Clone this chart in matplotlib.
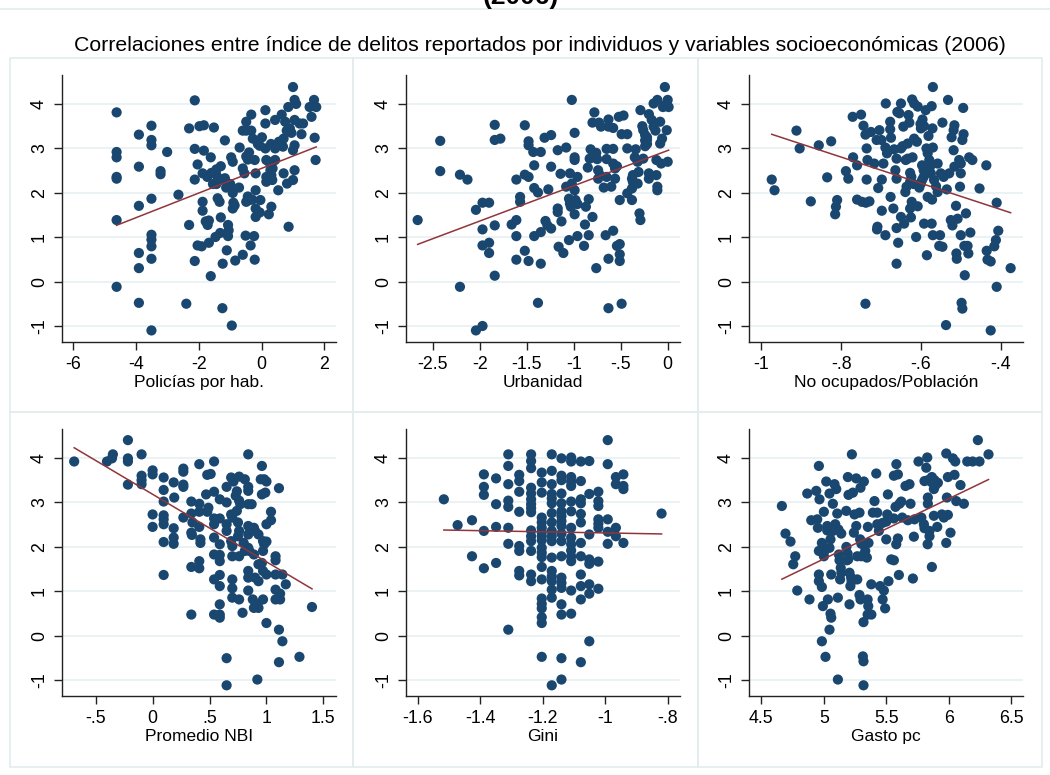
import numpy as np
import matplotlib
matplotlib.use("Agg")
import matplotlib.pyplot as plt
from matplotlib.patches import Rectangle
from matplotlib.lines import Line2D

plt.rcParams['font.family'] = ['Liberation Sans', 'DejaVu Sans']

title_top = "(2006)"
subtitle = "Correlaciones entre índice de delitos reportados por individuos y variables socioeconómicas (2006)"

y_ticks = [-1, 0, 1, 2, 3, 4]
y_limits = (-1.35, 4.65)

# Policías por hab.
pol_x = [-4.62, -4.62, -4.62, -4.62, -4.62, -4.62, -4.62, -3.91, -3.91, -3.91, -3.91, -3.91, -3.91,
         -3.51, -3.51, -3.51, -3.51, -3.51, -3.51, -3.51, -3.51, -3.51, -3.22, -3.22, -3.01, -2.65,
         -2.40, -2.31, -2.31, -2.13, -2.13, -2.13, -2.13, -2.04, -2.04, -1.98, -1.84, -1.52, -1.84,
         -1.88, -1.88, -1.88, -1.91, -1.68, -1.62, -1.62, -1.73, -1.78, -1.72, -1.68, -1.44, -1.44,
         -1.44, -1.34, -1.40, -1.30, -1.32, -1.47, -1.24, -1.17, -1.17, -1.13, -1.11, -1.25, -1.07,
         -1.05, -1.07, -0.97, -0.92, -0.95, -0.92, -0.90, -0.86, -0.92, -0.84, -0.95, -0.70, -0.72,
         -0.60, -0.60, -0.55, -0.49, -0.49, -0.51, -0.49, -0.44, -0.40, -0.44, -0.40, -0.49, -0.33,
         -0.33, -0.28, -0.35, -0.24, -0.22, -0.22, -0.19, -0.19, -0.19, -0.19, -0.12, -0.06, -0.04,
         -0.06, 0.01, 0.12, 0.12, 0.12, 0.15, 0.15, 0.15, 0.23, 0.28, 0.31, 0.34, 0.23, 0.31, 0.43,
         0.43, 0.43, 0.53, 0.64, 0.68, 0.70, 0.70, 0.80, 0.90, 0.95, 0.81, 0.86, 0.85, 1.00, 1.05,
         1.10, 1.05, 1.05, 1.00, 1.05, 1.00, 1.21, 1.27, 1.32, 1.53, 1.59, 1.67, 1.74, 1.69, 1.72,
         -1.55, -1.30, -1.25, -1.00, 0.30, 0.55, -0.60, 0.75, -0.30, 0.35, -1.60]
pol_y = [3.81, 2.92, 2.80, 2.36, 2.32, 1.39, -0.11, 3.31, 2.59, 1.71, 0.65, 0.31, -0.47,
         3.51, 3.19, 3.07, 1.87, 1.06, 0.95, 0.80, 0.52, -1.09, 2.49, 2.42, 2.92, 1.96,
         -0.49, 3.45, 1.28, 4.08, 2.99, 2.30, 0.47, 2.64, 0.82, 3.50, 3.52, 3.47, 2.95,
         2.44, 1.80, 1.60, 0.80, 0.88, 2.80, 0.13, 2.36, 1.36, 1.28, 1.38, 2.53, 2.40,
         2.20, 1.80, 1.88, 1.45, 1.10, 1.01, 0.41, 2.33, 3.18, 2.12, 0.71, -0.59, 1.28,
         1.16, 1.03, 2.80, 2.70, 2.10, 2.00, 1.78, 1.72, 1.65, 0.48, -0.98, 3.02, 2.12,
         0.61, 2.55, 2.44, 3.40, 3.60, 1.04, 1.80, 1.92, 1.84, 2.75, 2.91, 2.82, 3.76,
         3.40, 3.22, 0.82, 1.03, 0.50, 2.74, 2.44, 2.06, 1.65, 1.46, 3.10, 3.06, 1.84,
         1.56, 3.25, 3.56, 3.86, 3.00, 2.74, 2.36, 2.25, 2.70, 2.51, 2.40, 2.29, 1.52, 1.69, 3.64,
         3.00, 2.74, 2.06, 3.76, 3.04, 3.22, 2.44, 3.40, 3.45, 3.35, 2.21, 1.24, 3.93, 4.38, 4.09,
         4.00, 3.64, 3.07, 2.96, 2.51, 2.29, 3.56, 3.32, 3.56, 3.93, 3.71, 4.09, 3.93, 3.24, 2.74,
         2.20, 2.60, 2.30, 2.20, 3.10, 3.15, 3.40, 3.60, 1.85, 2.55, 2.45]

# Urbanidad
urb_x = [-2.66, -2.42, -2.42, -2.21, -2.13, -2.21, -2.04, -2.04, -1.97, -1.97, -1.90, -1.97, -1.97,
         -1.90, -1.90, -1.84, -1.84, -1.78, -1.84, -1.84, -1.66, -1.61, -1.61, -1.61, -1.61, -1.57,
         -1.57, -1.52, -1.52, -1.52, -1.48, -1.48, -1.48, -1.48, -1.43, -1.42, -1.42, -1.42, -1.38,
         -1.38, -1.35, -1.35, -1.35, -1.31, -1.30, -1.28, -1.24, -1.27, -1.24, -1.24, -1.17, -1.17,
         -1.17, -1.16, -1.14, -1.13, -1.11, -1.08, -1.08, -1.05, -1.02, -1.04, -1.02, -1.05, -1.04,
         -1.03, -0.99, -0.99, -0.99, -0.99, -0.99, -0.98, -0.96, -0.96, -0.96, -0.89, -0.88, -0.87,
         -0.84, -0.85, -0.84, -0.80, -0.83, -0.82, -0.80, -0.78, -0.76, -0.75, -0.76, -0.73, -0.71,
         -0.74, -0.72, -0.74, -0.68, -0.66, -0.65, -0.65, -0.63, -0.63, -0.63, -0.63, -0.65, -0.60,
         -0.58, -0.58, -0.58, -0.56, -0.58, -0.56, -0.54, -0.51, -0.51, -0.51, -0.54, -0.52, -0.47,
         -0.51, -0.49, -0.49, -0.43, -0.43, -0.43, -0.38, -0.38, -0.37, -0.37, -0.38, -0.35, -0.34,
         -0.32, -0.31, -0.32, -0.30, -0.29, -0.29, -0.27, -0.26, -0.24, -0.24, -0.24, -0.22, -0.22,
         -0.22, -0.26, -0.20, -0.20, -0.20, -0.17, -0.15, -0.13, -0.15, -0.12, -0.11, -0.11, -0.12,
         -0.11, -0.08, -0.08, -0.06, -0.07, -0.05, -0.03, -0.03, -0.01, 0.00, 0.01, 0.00]
urb_y = [1.39, 3.17, 2.49, 2.41, 2.30, -0.11, 1.62, -1.09, -0.99, 1.78, 1.78, 1.18, 0.82,
         0.88, 0.65, 3.53, 3.19, 3.22, 1.27, 0.14, 1.29, 1.39, 2.30, 1.03, 0.50, 1.91,
         1.80, 3.52, 0.70, 2.41, 2.36, 3.16, 3.07, 0.47, 2.92, 2.62, 2.11, 1.03, 2.01,
         -0.47, 2.92, 1.12, 0.41, 3.24, 1.37, 1.27, 1.20, 2.08, 3.30, 2.59, 1.65, 1.57,
         2.96, 0.79, 2.43, 1.36, 0.65, 3.02, 2.14, 0.94, 4.09, 2.44, 2.21, 1.87, 1.76,
         1.69, 3.35, 2.80, 2.74, 2.06, 1.52, 1.84, 1.75, 2.36, 1.03, 0.81, 1.29, 1.69,
         1.86, 2.57, 1.05, 1.46, 2.77, 2.98, 3.58, 3.81, 2.90, 2.76, 0.31, 3.58, 3.49,
         2.51, 2.40, 2.32, 2.12, 1.05, 2.99, 2.76, 3.65, 3.49, 0.52, -0.59, 2.36, 2.14,
         3.46, 2.99, 2.66, 2.55, 1.15, 2.32, 0.81, 0.85, 0.62, 0.47, 2.60, 3.71, 3.74,
         1.84, -0.49, 3.32, 3.32, 3.00, 1.99, 1.84, 2.32, 2.40, 2.25, 2.10, 2.80, 2.98,
         2.70, 2.47, 2.21, 1.54, 1.39, 3.86, 3.50, 3.41, 3.05, 3.18, 3.30, 3.20, 3.10,
         3.25, 2.77, 2.44, 2.32, 3.77, 3.64, 3.49, 3.40, 4.01, 2.40, 2.14, 2.06, 2.74,
         4.09, 3.60, 3.11, 3.22, 2.66, 3.93, 3.97, 4.38, 3.41, 4.09, 3.93, 2.70]

# No ocupados/Población
noc_x = [-0.974, -0.967, -0.912, -0.904, -0.876, -0.856, -0.835, -0.825, -0.810, -0.813, -0.815,
         -0.788, -0.782, -0.770, -0.771, -0.750, -0.760, -0.760, -0.748, -0.738, -0.729, -0.744,
         -0.739, -0.736, -0.736, -0.739, -0.734, -0.725, -0.717, -0.711, -0.707, -0.709, -0.710,
         -0.704, -0.699, -0.698, -0.698, -0.694, -0.689, -0.688, -0.689, -0.685, -0.677, -0.677,
         -0.675, -0.676, -0.669, -0.667, -0.664, -0.661, -0.661, -0.661, -0.661, -0.657, -0.659,
         -0.654, -0.650, -0.650, -0.650, -0.646, -0.644, -0.642, -0.639, -0.636, -0.638, -0.633,
         -0.633, -0.631, -0.629, -0.627, -0.627, -0.624, -0.627, -0.625, -0.622, -0.617, -0.623,
         -0.621, -0.621, -0.618, -0.612, -0.608, -0.617, -0.610, -0.608, -0.604, -0.600, -0.597,
         -0.600, -0.596, -0.601, -0.592, -0.597, -0.593, -0.593, -0.592, -0.585, -0.588, -0.586,
         -0.583, -0.581, -0.583, -0.579, -0.577, -0.575, -0.573, -0.572, -0.573, -0.571, -0.570,
         -0.570, -0.570, -0.567, -0.562, -0.558, -0.558, -0.552, -0.554, -0.550, -0.546, -0.546,
         -0.543, -0.537, -0.535, -0.532, -0.529, -0.525, -0.523, -0.521, -0.518, -0.518, -0.516,
         -0.516, -0.512, -0.511, -0.510, -0.508, -0.504, -0.500, -0.502, -0.500, -0.500, -0.498,
         -0.496, -0.496, -0.494, -0.493, -0.491, -0.490, -0.487, -0.483, -0.481, -0.479, -0.471,
         -0.476, -0.453, -0.436, -0.435, -0.433, -0.425, -0.425, -0.416, -0.412, -0.410, -0.410,
         -0.406, -0.375]
noc_y = [2.30, 2.06, 3.40, 3.00, 1.81, 3.07, 2.35, 3.16, 1.84, 1.69, 1.52,
         2.49, 2.32, 2.80, 3.71, 3.76, 2.62, 1.85, 1.80, 1.78, 1.81, 3.51,
         3.31, 3.00, 2.30, -0.49, 2.74, 3.37, 2.66, 3.19, 2.11, 1.24, 1.18,
         3.41, 3.19, 2.30, 1.60, 2.66, 1.05, 4.01, 3.02, 2.89, 3.60, 3.43,
         3.24, 1.91, 1.65, 2.98, 2.51, 2.32, 2.77, 1.21, 0.41, 0.88, 3.82,
         3.79, 4.01, 1.46, 3.00, 3.05, 3.49, 1.31, 2.02, 2.14, 2.74, 2.77,
         3.11, 3.75, 3.58, 2.25, 2.45, 2.36, 1.65, 1.45, 4.10, 4.01, 1.80,
         1.72, 2.80, 2.20, 1.01, 3.94, 3.22, 3.15, 1.70, 2.12, 2.21, 2.29,
         3.45, 3.65, 3.55, 3.50, 2.62, 2.51, 2.36, 1.31, 0.60, 3.86, 3.00,
         2.89, 3.28, 1.91, 2.74, 2.59, 2.44, 1.31, 1.85, 3.95, 3.45, 3.02,
         1.05, 4.38, 2.29, 2.15, 2.02, 2.66, 1.05, 0.81, 2.44, 0.79, 3.58,
         2.36, -0.97, 2.08, 4.09, 2.44, 1.39, 3.25, 1.27, 2.96, 3.41, 3.52,
         2.59, 1.71, 0.64, 0.52, 1.42, 2.74, 2.66, 2.14, 2.44, 1.05, -0.47,
         -0.60, 3.19, 3.91, 3.32, 0.81, 0.15, 1.54, 0.81, 0.64, 2.80, 2.74,
         1.11, 2.10, 2.62, 0.70, 0.50, 0.46, -1.09, 0.80, 0.94, -0.11, 1.78,
         1.15, 0.31]

# Promedio NBI
nbi_x = [-0.689, -0.401, -0.357, -0.349, -0.217, -0.217, -0.217, -0.217, -0.097, -0.097, -0.097,
         -0.097, 0.0, 0.0, 0.0, 0.0, 0.097, 0.097, 0.097, 0.097, 0.097, 0.097, 0.097, 0.097, 0.185,
         0.19, 0.185, 0.185, 0.185, 0.27, 0.27, 0.27, 0.27, 0.27, 0.34, 0.34, 0.35, 0.34, 0.345,
         0.34, 0.34, 0.41, 0.41, 0.41, 0.41, 0.42, 0.42, 0.41, 0.41, 0.47, 0.48, 0.51, 0.49, 0.48,
         0.54, 0.54, 0.54, 0.54, 0.54, 0.54, 0.54, 0.54, 0.59, 0.59, 0.59, 0.59, 0.59, 0.59, 0.59,
         0.59, 0.59, 0.59, 0.65, 0.65, 0.65, 0.65, 0.65, 0.65, 0.69, 0.71, 0.69, 0.70, 0.69, 0.70,
         0.70, 0.70, 0.70, 0.70, 0.73, 0.74, 0.75, 0.76, 0.75, 0.76, 0.76, 0.76, 0.77, 0.74, 0.76,
         0.79, 0.80, 0.81, 0.81, 0.84, 0.84, 0.84, 0.84, 0.87, 0.84, 0.86, 0.84, 0.84, 0.85, 0.84,
         0.84, 0.84, 0.89, 0.89, 0.90, 0.93, 0.88, 0.89, 0.92, 0.93, 0.90, 0.93, 0.92, 0.96, 0.95,
         0.98, 1.00, 0.96, 0.99, 0.97, 1.00, 0.98, 0.97, 0.96, 0.93, 0.97, 0.97, 1.00, 1.00, 1.00,
         1.04, 1.04, 1.08, 1.08, 1.08, 1.08, 1.08, 1.12, 1.12, 1.11, 1.11, 1.11, 1.14, 1.14, 1.17,
         1.29, 1.40]
nbi_y = [3.92, 3.92, 3.99, 4.08, 4.40, 3.99, 3.92, 3.40, 4.08, 3.60, 3.50,
         3.41, 3.72, 3.63, 2.73, 2.45, 3.56, 3.28, 3.02, 2.71, 2.62, 2.51, 2.11, 1.37, 3.45,
         3.11, 2.42, 2.21, 2.07, 3.76, 3.69, 3.40, 3.35, 2.66, 3.02, 2.75, 2.55, 2.32, 2.27,
         1.55, 0.48, 3.86, 2.97, 2.79, 2.45, 2.17, 2.09, 1.68, 1.52, 3.18, 3.62, 3.64, 2.88, 2.79,
         3.92, 3.24, 2.64, 2.51, 2.21, 1.83, 1.27, 0.48, 3.07, 2.64, 2.06, 1.82, 1.68, 1.37, 1.12,
         0.71, 0.48, 0.41, 3.35, 3.00, 2.51, 2.36, -0.50, -1.11, 3.56, 3.47, 2.73, 2.66, 2.13, 2.02,
         1.79, 1.27, 1.07, 0.86, 3.15, 3.25, 2.55, 2.36, 2.24, 1.79, 3.58, 3.04, 2.96, 2.81, 0.82,
         0.52, 2.09, 1.91, 3.52, 4.08, 3.35, 3.26, 2.96, 2.96, 2.47, 2.37, 2.28, 1.98, 1.91, 1.46,
         1.31, 1.02, 1.83, 2.43, 2.36, 2.28, 0.82, 0.63, 0.71, 0.63, 1.31, 1.23, -0.98, 3.82, 3.52,
         3.52, 3.47, 3.18, 3.22, 2.13, 2.12, 2.06, 1.91, 1.64, 1.61, 1.46, 0.82, 2.51, 1.38, 0.29,
         2.79, 2.60, 1.79, 1.70, 1.38, 1.04, 0.82, 0.82, 0.95, 3.32, 0.14, -0.59, -0.12, 1.38, 1.16,
         -0.47, 0.65]

# Gini
gini_x = [-1.516, -1.472, -1.426, -1.426, -1.388, -1.388, -1.388, -1.388, -1.388,
          -1.349, -1.349, -1.349, -1.349,
          -1.310, -1.310, -1.310, -1.310, -1.310, -1.310, -1.310, -1.310,
          -1.275, -1.275, -1.275, -1.275, -1.275, -1.275, -1.275, -1.275,
          -1.237, -1.237, -1.237, -1.237, -1.237, -1.237, -1.237, -1.237, -1.237, -1.237, -1.237,
          -1.237, -1.237, -1.237, -1.237,
          -1.203, -1.203, -1.203, -1.203, -1.203, -1.203, -1.203, -1.203, -1.203, -1.203, -1.203,
          -1.203, -1.203, -1.203, -1.203, -1.203, -1.203, -1.203, -1.203, -1.203,
          -1.171, -1.171, -1.171, -1.171, -1.171, -1.171, -1.171, -1.171, -1.171, -1.171, -1.171,
          -1.171, -1.171, -1.171, -1.171, -1.171, -1.171, -1.171,
          -1.140, -1.140, -1.140, -1.140, -1.140, -1.140, -1.140, -1.140, -1.140, -1.140, -1.140,
          -1.140, -1.140, -1.140, -1.140, -1.140, -1.140, -1.140, -1.140,
          -1.109, -1.109, -1.109, -1.109, -1.109, -1.109, -1.109, -1.109, -1.109, -1.109, -1.109,
          -1.109, -1.109, -1.109, -1.109,
          -1.078, -1.078, -1.078, -1.078, -1.078, -1.078, -1.078, -1.078, -1.078, -1.078, -1.078,
          -1.078,
          -1.051, -1.051, -1.051, -1.051, -1.051, -1.051, -1.051, -1.051,
          -1.022, -1.022, -1.022, -1.022, -1.022, -1.022, -1.022, -1.022,
          -0.992, -0.992, -0.992, -0.992, -0.992,
          -0.966, -0.966, -0.966, -0.966,
          -0.942, -0.942, -0.942, -0.942,
          -0.820]
gini_y = [3.07, 2.49, 2.60, 1.79, 3.63, 3.35, 3.17, 2.36, 1.52,
          3.54, 2.96, 2.45, 1.64,
          4.08, 3.82, 3.41, 3.04, 2.90, 2.43, 2.07, 0.14,
          3.62, 3.48, 3.24, 2.79, 2.02, 1.91, 1.46, 1.36,
          4.08, 3.93, 3.77, 3.33, 3.20, 3.07, 2.96, 2.87, 2.78, 2.37, 2.24,
          2.13, 1.91, 1.38, 1.23,
          3.67, 3.45, 3.22, 2.66, 2.55, 2.43, 2.33, 2.24, 2.15, 1.98, 1.87,
          1.77, 1.55, 1.27, 0.84, 0.72, 0.62, 0.42, 0.29, -0.47,
          4.08, 3.71, 3.41, 3.19, 3.09, 2.98, 2.76, 2.55, 2.36, 2.24, 2.13,
          1.76, 1.46, 1.34, 1.23, 1.04, 0.86, -1.11,
          3.99, 3.60, 3.50, 3.20, 2.98, 2.80, 2.69, 2.58, 2.47, 2.30, 2.13,
          1.79, 1.31, 1.19, 1.08, 0.71, 0.48, -0.50, -0.98,
          4.01, 3.92, 3.57, 3.47, 3.37, 3.02, 2.80, 2.43, 2.21, 2.06, 1.92,
          1.79, 1.68, 1.02, 0.50,
          3.92, 3.48, 3.07, 2.98, 2.74, 2.55, 2.09, 1.79, 1.38, 1.12, 0.82,
          -0.59,
          3.93, 3.19, 2.28, 1.72, 1.62, 1.16, 0.95, -0.12,
          3.24, 3.03, 2.92, 2.62, 2.52, 2.43, 1.67, 1.06,
          4.40, 3.86, 2.62, 2.34, 2.07,
          3.57, 3.41, 2.43, 2.24,
          3.63, 3.37, 3.30, 2.09,
          2.75]

# Gasto pc
gas_x = [4.664, 4.693, 4.733, 4.755, 4.771, 4.787, 4.867, 4.885, 4.899, 4.939, 4.947, 4.952, 4.960,
         4.965, 4.960, 4.960, 4.960, 4.984, 4.984, 4.984, 4.992, 5.000, 5.005, 5.000, 5.013, 5.019,
         5.027, 5.027, 5.032, 5.045, 5.045, 5.053, 5.045, 5.053, 5.059, 5.059, 5.072, 5.072, 5.085,
         5.099, 5.091, 5.107, 5.112, 5.112, 5.117, 5.139, 5.12, 5.125, 5.135, 5.13, 5.14, 5.179,
         5.18, 5.19, 5.195, 5.185, 5.192, 5.197, 5.205, 5.218, 5.212, 5.222, 5.205, 5.224, 5.232,
         5.240, 5.245, 5.259, 5.259, 5.267, 5.267, 5.285, 5.293, 5.285, 5.293, 5.29, 5.30, 5.30,
         5.312, 5.317, 5.317, 5.317, 5.320, 5.331, 5.344, 5.352, 5.357, 5.35, 5.355, 5.35, 5.38,
         5.379, 5.392, 5.405, 5.419, 5.427, 5.427, 5.440, 5.45, 5.48, 5.47, 5.49, 5.47, 5.50,
         5.499, 5.507, 5.512, 5.517, 5.539, 5.56, 5.560, 5.56, 5.58, 5.573, 5.579, 5.592, 5.592,
         5.600, 5.605, 5.619, 5.627, 5.653, 5.685, 5.672, 5.693, 5.712, 5.720, 5.725, 5.757, 5.78,
         5.80, 5.805, 5.805, 5.832, 5.819, 5.827, 5.832, 5.832, 5.83, 5.845, 5.845, 5.864, 5.864,
         5.885, 5.864, 5.899, 5.88, 5.891, 5.880, 5.907, 5.912, 5.944, 5.96, 5.979, 5.979, 5.984,
         5.992, 5.992, 6.013, 6.032, 6.051, 6.045, 6.059, 6.093, 6.120, 6.147, 6.19, 6.245, 6.232,
         6.317]
gas_y = [2.92, 2.30, 2.12, 1.61, 1.79, 1.02, 3.20, 0.82, 2.60, 3.26, 2.62, 2.43, 3.82,
         3.07, 1.91, 1.38, 1.23, 2.09, 1.10, -0.12, 0.67, 2.79, 1.91, 1.79, -0.47, 3.47,
         2.47, 2.37, 0.82, 3.20, 1.98, 2.17, 0.14, 0.50, 0.41, 1.38, 2.97, 2.36, 3.41,
         3.30, 2.51, 2.75, 0.86, -0.98, 2.39, 2.30, 1.83, 1.70, 1.53, 1.27, 1.42, 2.81,
         2.00, 1.85, 1.72, 1.70, 3.57, 3.17, 1.42, 1.31, 1.12, 1.23, 0.71, 4.08, 3.22,
         2.32, 2.73, 3.54, 2.47, 1.79, 1.27, 0.92, 0.82, 2.77, 3.33, 2.17, 2.07, 1.79,
         -0.46, -0.57, -1.11, 0.31, 3.47, 1.91, 1.76, 2.45, 2.09, 0.82, 0.67, 0.48, 0.48,
         1.16, 2.77, 3.03, 3.65, 2.77, 2.51, 2.36, 1.12, 1.02, 0.82, 0.62, 2.54, 2.57,
         2.17, 2.73, 3.18, 1.23, 1.72, 1.70, 2.64, 3.60, 3.86, 2.90, 2.06, 2.19, 3.63,
         1.37, 2.97, 3.02, 2.66, 3.37, 3.41, 2.60, 2.97, 1.29, 2.23, 2.62, 3.92, 2.66,
         2.51, 2.42, 3.48, 3.50, 3.78, 4.01, 3.11, 2.97, 2.06, 2.24, 2.36, 1.55, 3.57,
         3.50, 3.45, 3.45, 3.30, 3.38, 2.70, 2.45, 3.44, 2.73, 2.66, 4.10, 2.09, 3.11,
         3.57, 2.72, 2.32, 3.99, 3.92, 3.62, 3.03, 3.39, 2.97, 3.92, 3.92, 3.92, 4.40,
         4.08]

panels = [
    (pol_x, pol_y, "Policías por hab.", [-6, -4, -2, 0, 2], ["-6", "-4", "-2", "0", "2"], (-6.36, 2.37)),
    (urb_x, urb_y, "Urbanidad", [-2.5, -2, -1.5, -1, -0.5, 0], ["-2.5", "-2", "-1.5", "-1", "-.5", "0"], (-2.784, 0.131)),
    (noc_x, noc_y, "No ocupados/Población", [-1, -0.8, -0.6, -0.4], ["-1", "-.8", "-.6", "-.4"], (-1.031, -0.344)),
    (nbi_x, nbi_y, "Promedio NBI", [-0.5, 0, 0.5, 1, 1.5], ["-.5", "0", ".5", "1", "1.5"], (-0.796, 1.611)),
    (gini_x, gini_y, "Gini", [-1.6, -1.4, -1.2, -1, -0.8], ["-1.6", "-1.4", "-1.2", "-1", "-.8"], (-1.637, -0.761)),
    (gas_x, gas_y, "Gasto pc", [4.5, 5, 5.5, 6, 6.5], ["4.5", "5", "5.5", "6", "6.5"], (4.401, 6.593)),
]

W, H = 1050, 775
fig = plt.figure(figsize=(W / 100, H / 100), dpi=100)
fig.patch.set_facecolor('white')

navy = '#1a476f'
maroon = '#90353b'
grid_col = '#e6eff1'
box_col = '#e3eded'

# panel frames (Stata graph regions)
col_edges = [10, 353, 698, 1042]
row_edges = [58, 412, 767]
for r in range(2):
    for c in range(3):
        x0, x1 = col_edges[c], col_edges[c + 1]
        y0, y1 = row_edges[r], row_edges[r + 1]
        fig.add_artist(Rectangle((x0 / W, 1 - y1 / H), (x1 - x0) / W, (y1 - y0) / H,
                                 transform=fig.transFigure, fill=False, edgecolor=box_col, lw=1.2))
fig.add_artist(Line2D([0, 1], [1 - 9 / H, 1 - 9 / H], transform=fig.transFigure, color=box_col, lw=1.2))

# top title is cut by the picture edge, as in the source image
fig.text(521 / W, 1 - 4 / H, title_top, ha='center', va='baseline', fontsize=19, fontweight='bold')
fig.text(540 / W, 1 - 51 / H, subtitle, ha='center', va='baseline', fontsize=15.3)

ax_left = [62, 406, 749]
ax_w = 274
ax_top = [75, 429]
ax_h = 267

for i, (xs, ys, label, xt, xtl, xl) in enumerate(panels):
    r, c = divmod(i, 3)
    ax = fig.add_axes([ax_left[c] / W, 1 - (ax_top[r] + ax_h) / H, ax_w / W, ax_h / H])
    xs = np.array(xs)
    ys = np.array(ys)
    for yv in y_ticks:
        ax.axhline(yv, color=grid_col, lw=1.1, zorder=0)
    ax.scatter(xs, ys, s=54, color=navy, edgecolors='none', zorder=2)
    b, a = np.polyfit(xs, ys, 1)
    xf = np.array([xs.min(), xs.max()])
    ax.plot(xf, a + b * xf, color=maroon, lw=1.1, zorder=3)
    ax.set_xlim(xl)
    ax.set_ylim(y_limits)
    ax.set_xticks(xt)
    ax.set_xticklabels(xtl)
    ax.set_yticks(y_ticks)
    ax.set_yticklabels([str(v) for v in y_ticks], rotation=90, va='center')
    ax.spines['top'].set_visible(False)
    ax.spines['right'].set_visible(False)
    for s in ('left', 'bottom'):
        ax.spines[s].set_linewidth(1.0)
        ax.spines[s].set_color('#222222')
    ax.tick_params(direction='out', length=5.5, width=1, color='#222222', labelsize=12.8, pad=4.5)
    ax.set_xlabel(label, fontsize=12.5, labelpad=1.5)
    ax.set_facecolor('white')

fig.savefig('out.png', dpi=100)
